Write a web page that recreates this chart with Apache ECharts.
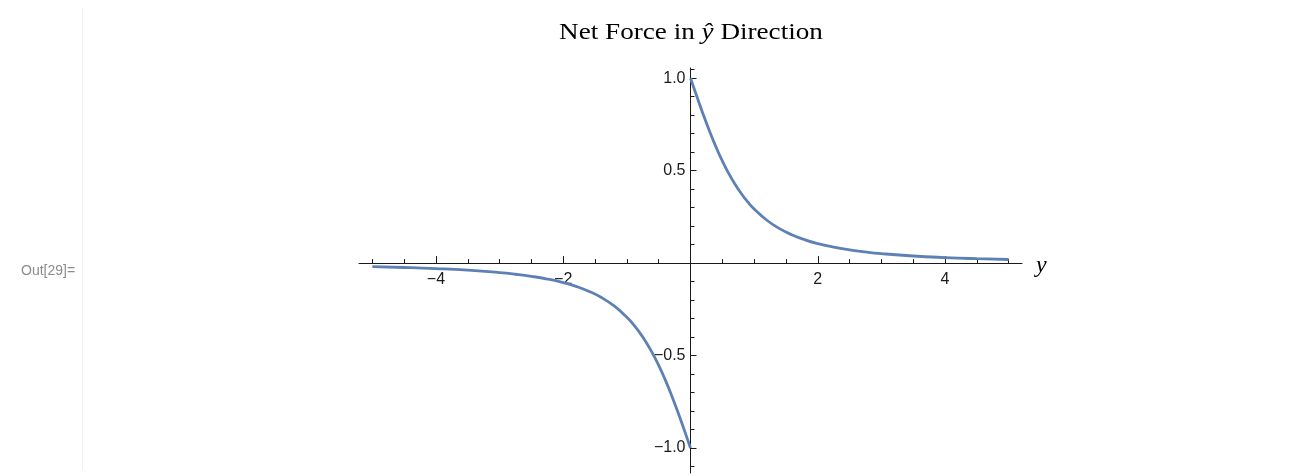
<!DOCTYPE html>
<html>
<head>
<meta charset="utf-8">
<title>Net Force in ŷ Direction</title>
<script src="https://cdn.jsdelivr.net/npm/echarts@6/dist/echarts.min.js"></script>
<style>
  html, body { margin: 0; padding: 0; background: #ffffff; }
  #chart { width: 1314px; height: 476px; }
</style>
</head>
<body>
<div id="chart"></div>
<script>
// Sampled net force along the y axis (positive branch y > 0, negative branch y < 0)
const posY = [0, 0.1, 0.2, 0.3, 0.4, 0.5, 0.6, 0.7, 0.8, 0.9, 1.0, 1.2, 1.4, 1.6, 1.8, 2.0, 2.25, 2.5, 2.75, 3.0, 3.5, 4.0, 4.5, 5.0];
const posF = [1.0, 0.9005, 0.8039, 0.7127, 0.6286, 0.5528, 0.4855, 0.4265, 0.3753, 0.3310, 0.2929, 0.2318, 0.1863, 0.1520, 0.1258, 0.1056, 0.0862, 0.0715, 0.0602, 0.0513, 0.0385, 0.0299, 0.0238, 0.0194];
const negY = [-5.0, -4.5, -4.0, -3.5, -3.0, -2.75, -2.5, -2.25, -2.0, -1.8, -1.6, -1.4, -1.2, -1.0, -0.9, -0.8, -0.7, -0.6, -0.5, -0.4, -0.3, -0.2, -0.1, 0];
const negF = [-0.0194, -0.0238, -0.0299, -0.0385, -0.0513, -0.0602, -0.0715, -0.0862, -0.1056, -0.1258, -0.1520, -0.1863, -0.2318, -0.2929, -0.3310, -0.3753, -0.4265, -0.4855, -0.5528, -0.6286, -0.7127, -0.8039, -0.9005, -1.0];

// Axis ticks and labels
const xMajorTicks = [-4, -2, 2, 4];
const xMinorTicks = [-5, -4.5, -3.5, -3, -2.5, -1.5, -1, -0.5, 0.5, 1, 1.5, 2.5, 3, 3.5, 4.5, 5];
const yMajorTicks = [-1, -0.5, 0.5, 1];
const yMinorTicks = [-1.1, -0.9, -0.8, -0.7, -0.6, -0.4, -0.3, -0.2, -0.1, 0.1, 0.2, 0.3, 0.4, 0.6, 0.7, 0.8, 0.9, 1.05];

const AXIS_COLOR = '#1a1a1a';
const SERIF = 'Liberation Serif, Times New Roman, serif';
const LABEL_FONT = { color: '#1a1a1a', fontFamily: 'Liberation Sans, Arial, sans-serif', fontSize: 16 };
const minus = s => String(s).replace('-', '\u2212');
const zip = (xs, ys) => xs.map((x, i) => [x, ys[i]]);

// Plot frame and value ranges
const W = 1314, H = 476;
const GRID = { left: 359, right: 292, top: 68, bottom: 3 };
const xRange = { min: -5.21, max: 5.21 };
const yRange = { min: -1.135, max: 1.055 };

// The axes cross at the origin: shift each axis inward from the frame edge to the zero line
const gridW = W - GRID.left - GRID.right;
const gridH = H - GRID.top - GRID.bottom;
const xAxisOffset = -((0 - yRange.min) / (yRange.max - yRange.min)) * gridH;
const yAxisOffset = -((0 - xRange.min) / (xRange.max - xRange.min)) * gridW;

const chart = echarts.init(document.getElementById('chart'), null, { renderer: 'canvas' });

const xAxisBase = {
  type: 'value', position: 'bottom', ...xRange, offset: xAxisOffset,
  splitLine: { show: false }
};
const yAxisBase = {
  type: 'value', position: 'left', ...yRange, offset: yAxisOffset,
  splitLine: { show: false }
};

const option = {
  backgroundColor: '#ffffff',
  animation: false,
  grid: { ...GRID, containLabel: false, outerBoundsMode: 'none' },
  xAxis: [
    {
      ...xAxisBase,
      axisLine: { onZero: false, lineStyle: { color: AXIS_COLOR, width: 1 } },
      axisTick: { inside: true, length: 7, customValues: xMajorTicks, lineStyle: { color: AXIS_COLOR } },
      axisLabel: { ...LABEL_FONT, margin: 8, customValues: xMajorTicks, formatter: v => minus(v) },
      name: 'y', nameLocation: 'end', nameGap: 14,
      nameTextStyle: { fontFamily: SERIF, fontStyle: 'italic', fontSize: 24, color: '#000', verticalAlign: 'top', lineHeight: 6 }
    },
    {
      ...xAxisBase,
      axisLine: { onZero: false, show: false },
      axisTick: { inside: true, length: 4, customValues: xMinorTicks, lineStyle: { color: AXIS_COLOR } },
      axisLabel: { show: false }
    }
  ],
  yAxis: [
    {
      ...yAxisBase,
      axisLine: { onZero: false, lineStyle: { color: AXIS_COLOR, width: 1 } },
      axisTick: { inside: true, length: 6, customValues: yMajorTicks, lineStyle: { color: AXIS_COLOR } },
      axisLabel: { ...LABEL_FONT, margin: 5, customValues: yMajorTicks, formatter: v => minus(v.toFixed(1)) }
    },
    {
      ...yAxisBase,
      axisLine: { onZero: false, show: false },
      axisTick: { inside: true, length: 4, customValues: yMinorTicks, lineStyle: { color: AXIS_COLOR } },
      axisLabel: { show: false }
    }
  ],
  graphic: [
    {
      // plot title, drawn slightly widened
      type: 'text', silent: true,
      x: 691, y: 33, scaleX: 1.18, scaleY: 1,
      style: {
        text: 'Net Force in {i|ŷ} Direction',
        align: 'center', verticalAlign: 'middle',
        font: '23px ' + SERIF, fill: '#000',
        rich: { i: { fontFamily: SERIF, fontSize: 23, fontStyle: 'italic', fill: '#000' } }
      }
    },
    {
      type: 'line', silent: true,
      shape: { x1: 82.5, y1: 7, x2: 82.5, y2: 470 },
      style: { stroke: '#f1f1f1', lineWidth: 1 }
    },
    {
      type: 'text', silent: true, left: 21, top: 264,
      style: { text: 'Out[29]=', fill: '#8c8c8c', font: '14px "Liberation Sans", Arial, sans-serif' }
    }
  ],
  series: [
    {
      type: 'line', xAxisIndex: 0, yAxisIndex: 0, data: zip(posY, posF),
      smooth: true, showSymbol: false, clip: false,
      lineStyle: { color: '#5E81B5', width: 2.8 }
    },
    {
      type: 'line', xAxisIndex: 0, yAxisIndex: 0, data: zip(negY, negF),
      smooth: true, showSymbol: false, clip: false,
      lineStyle: { color: '#5E81B5', width: 2.8 }
    }
  ]
};

chart.setOption(option);
</script>
</body>
</html>
